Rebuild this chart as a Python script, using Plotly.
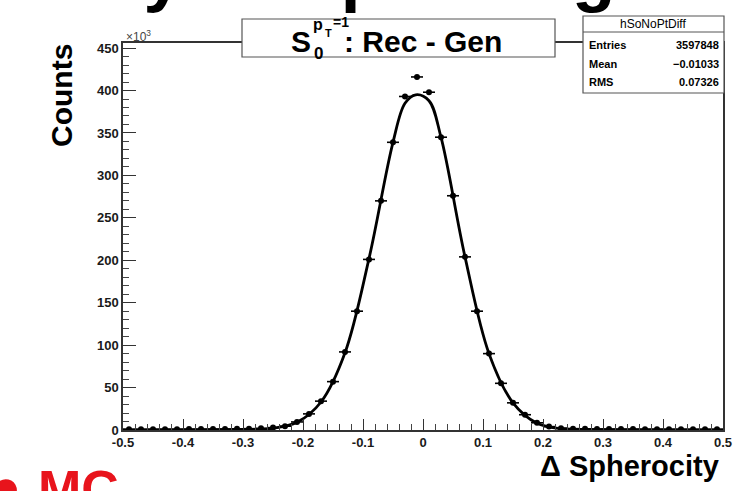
import plotly.graph_objects as go

# ---- data (counts in units of 1e3) ----
bin_centers = [-0.49, -0.47, -0.45, -0.43, -0.41, -0.39, -0.37, -0.35, -0.33, -0.31,
               -0.29, -0.27, -0.25, -0.23, -0.21, -0.19, -0.17, -0.15, -0.13, -0.11,
               -0.09, -0.07, -0.05, -0.03, -0.01, 0.01, 0.03, 0.05, 0.07, 0.09,
               0.11, 0.13, 0.15, 0.17, 0.19, 0.21, 0.23, 0.25, 0.27, 0.29,
               0.31, 0.33, 0.35, 0.37, 0.39, 0.41, 0.43, 0.45, 0.47, 0.49]
counts_k = [0.8, 0.8, 0.9, 1.0, 1.0, 1.1, 1.1, 1.2, 1.3, 1.4,
            1.6, 2.0, 2.8, 4.5, 9.5, 19, 34, 57, 92, 140,
            201, 270, 339, 393, 416, 398, 345, 276, 204, 140,
            90, 55, 32, 18, 8.5, 4.0, 2.2, 1.6, 1.4, 1.3,
            1.2, 1.1, 1.1, 1.0, 1.0, 0.9, 0.9, 0.8, 0.8, 0.8]
half_bin = [0.01] * len(bin_centers)

fit_x = [-0.5, -0.4, -0.33, -0.29, -0.25, -0.21, -0.17, -0.13, -0.09, -0.05, -0.03, -0.012,
         0.01, 0.03, 0.07, 0.11, 0.15, 0.19, 0.23, 0.27, 0.33, 0.4, 0.5]
fit_k = [0.0, 0.0, 0.1, 0.5, 2.0, 9.0, 33, 91, 202, 339, 385, 395,
         388, 345, 204, 90, 32, 8.0, 1.5, 0.4, 0.1, 0.0, 0.0]

y_tick_vals = [0, 50, 100, 150, 200, 250, 300, 350, 400, 450]
x_tick_vals = [-0.5, -0.4, -0.3, -0.2, -0.1, 0, 0.1, 0.2, 0.3, 0.4, 0.5]
x_tick_text = ["-0.5", "-0.4", "-0.3", "-0.2", "-0.1", "0", "0.1", "0.2", "0.3", "0.4", "0.5"]

stats_name = "hSoNoPtDiff"
stats_rows = [("Entries", "3597848"), ("Mean", "\u22120.01033"), ("RMS", "0.07326")]

# ---- geometry (pixels) ----
W, H = 747, 491
L, R, T, B = 123, 723, 43, 430

def px(x):
    return (x - L) / (R - L)

def py(y):
    return (B - y) / (B - T)

FONT = "Liberation Sans, Arial, Helvetica, sans-serif"

fig = go.Figure()
fig.add_trace(go.Scatter(
    x=fit_x, y=[v * 1000 for v in fit_k], mode="lines",
    line=dict(color="black", width=2.8, shape="spline", smoothing=1.0),
    hoverinfo="skip", showlegend=False))
fig.add_trace(go.Scatter(
    x=bin_centers, y=[v * 1000 for v in counts_k], mode="markers",
    marker=dict(color="black", size=6),
    error_x=dict(type="data", array=half_bin, symmetric=True, color="black",
                 thickness=1.6, width=0),
    showlegend=False))

fig.update_layout(
    width=W, height=H,
    margin=dict(l=L, r=W - R, t=T, b=H - B, autoexpand=False),
    paper_bgcolor="white", plot_bgcolor="white",
    font=dict(family=FONT, color="black"),
    showlegend=False,
)
fig.update_xaxes(
    range=[-0.5, 0.5], tickvals=x_tick_vals,
    ticktext=["<b>" + t + "</b>" for t in x_tick_text],
    ticks="inside", ticklen=11, tickwidth=1, tickcolor="#333",
    showline=True, linecolor="#333", linewidth=1.5, mirror=True,
    showgrid=False, zeroline=False, automargin=False,
    tickfont=dict(size=13, family=FONT, color="#1a1a1a"),
    minor=dict(dtick=0.02, ticks="inside", ticklen=6, tickcolor="#444", showgrid=False),
)
fig.update_yaxes(
    range=[0, 456000], tickvals=[v * 1000 for v in y_tick_vals],
    ticktext=["<b>" + str(v) + "</b>" for v in y_tick_vals],
    ticks="inside", ticklen=13, tickwidth=1, tickcolor="#333",
    showline=True, linecolor="#333", linewidth=1.5, mirror=True,
    showgrid=False, zeroline=False, automargin=False,
    tickfont=dict(size=13, family=FONT, color="#1a1a1a"),
    minor=dict(dtick=10000, ticks="inside", ticklen=6, tickcolor="#444", showgrid=False),
)

shapes = []
# title box
shapes.append(dict(type="rect", xref="paper", yref="paper",
                   x0=px(242), x1=px(555), y0=py(57), y1=py(19),
                   line=dict(color="#555", width=1.2), fillcolor="white", layer="above"))
# stats box
shapes.append(dict(type="rect", xref="paper", yref="paper",
                   x0=px(583), x1=px(724), y0=py(93), y1=py(16),
                   line=dict(color="#555", width=1.2), fillcolor="white", layer="above"))
shapes.append(dict(type="line", xref="paper", yref="paper",
                   x0=px(583), x1=px(724), y0=py(32), y1=py(32),
                   line=dict(color="#555", width=1), layer="above"))
fig.update_layout(shapes=shapes)

ann = []
def add(text, x, y, size, xanchor="center", yanchor="middle", color="black", bold=False, angle=0):
    t = "<b>" + text + "</b>" if bold else text
    ann.append(dict(text=t, x=px(x), y=py(y), xref="paper", yref="paper",
                    xanchor=xanchor, yanchor=yanchor, showarrow=False, textangle=angle,
                    font=dict(size=size, family=FONT, color=color)))

# slide remnant: slide title cut at the top (drawn first, under the rest)
add("Spherocity: No pT Weight", 684, -27, 71, xanchor="right", bold=True)

# title pieces
add("S", 301, 42, 30, bold=True)
add("0", 318, 54, 17, bold=True)
add("p", 318, 25, 16, bold=True)
add("T", 328, 33, 11, bold=True)
add("=1", 341, 22, 14, bold=True)
add(": Rec - Gen", 423, 42, 30, bold=True)

# stats box text
add(stats_name, 653, 24, 12)
rows_y = [45, 64, 82]
for (k, v), yy in zip(stats_rows, rows_y):
    add(k, 587, yy, 11, xanchor="left", bold=True)
    add(v, 721, yy, 11, xanchor="right", bold=True)

# axis titles
add("Counts", 62, 96, 30, bold=True, angle=-90)
add("\u0394 Spherocity", 721, 466, 29, xanchor="right", bold=True)
add("\u00d710<sup>3</sup>", 124, 36, 12, xanchor="left", color="#444")

# slide remnant: red label at bottom-left
add("MC", 36, 458, 52, xanchor="left", yanchor="top", color="#e8141c", bold=True)
add("\u25cf", -12, 456, 52, xanchor="left", yanchor="top", color="#e8141c")

fig.update_layout(annotations=ann)
fig.write_html("out.html", config={"displayModeBar": False},
               post_script="document.body.style.margin='0';document.body.style.overflow='hidden';")
